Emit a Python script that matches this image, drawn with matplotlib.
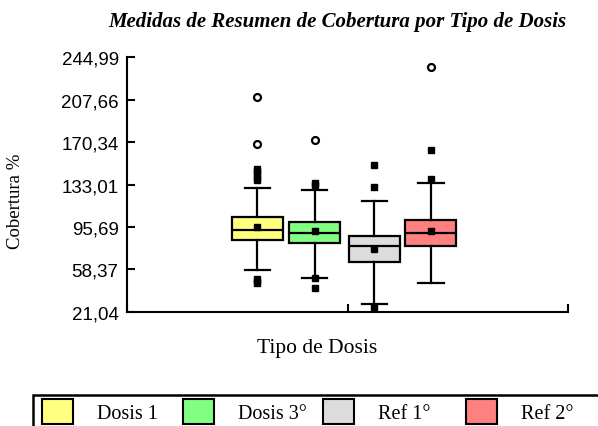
import matplotlib
matplotlib.use("Agg")
import matplotlib.pyplot as plt
from matplotlib.patches import Patch, Rectangle

# ---- data ----
categories = ["Dosis 1", "Dosis 3°", "Ref 1°", "Ref 2°"]
colors = ["#FFFF80", "#80FF80", "#DCDCDC", "#FF8080"]
q1 = [84.3, 81.7, 64.9, 78.7]
medians = [93.2, 90.5, 79.0, 90.5]
q3 = [104.3, 100.2, 87.5, 101.6]
whis_lo = [57.8, 50.8, 28.1, 46.9]
whis_hi = [129.9, 128.4, 118.4, 134.0]
means = [95.5, 92.5, 76.6, 92.5]
outliers = [
    [147.0, 145.0, 142.0, 139.0, 137.0, 50.0, 48.0, 46.8],
    [134.5, 132.3, 51.3, 42.5],
    [150.2, 130.5, 25.7],
    [163.2, 137.6],
]
far_outliers = [
    [209.7, 168.4],
    [171.7],
    [],
    [236.4],
]
yticks = [21.04, 58.37, 95.69, 133.01, 170.34, 207.66, 244.99]
ytick_labels = ["21,04", "58,37", "95,69", "133,01", "170,34", "207,66", "244,99"]

# ---- layout ----
W, H = 598, 427
fig = plt.figure(figsize=(W / 100, H / 100), dpi=100)
ax = fig.add_axes([127 / W, 1 - 313 / H, (568 - 127) / W, (313 - 58) / H])

positions = [0.2959, 0.4252, 0.5612, 0.6890]
box_width = 0.116

stats = []
for i in range(len(categories)):
    stats.append(dict(med=medians[i], q1=q1[i], q3=q3[i],
                      whislo=whis_lo[i], whishi=whis_hi[i],
                      mean=means[i], fliers=outliers[i], label=categories[i]))

lw = 1.6
bp = ax.bxp(stats, positions=positions, widths=box_width, patch_artist=True,
            showmeans=True, showfliers=True, manage_ticks=False,
            boxprops=dict(edgecolor="black", linewidth=lw),
            medianprops=dict(color="black", linewidth=lw),
            whiskerprops=dict(color="black", linewidth=lw),
            capprops=dict(color="black", linewidth=lw),
            meanprops=dict(marker="s", markerfacecolor="black",
                           markeredgecolor="black", markersize=5),
            flierprops=dict(marker="s", markerfacecolor="black",
                            markeredgecolor="black", markersize=5,
                            linestyle="none"))
for patch, c in zip(bp["boxes"], colors):
    patch.set_facecolor(c)

for pos, vals in zip(positions, far_outliers):
    if vals:
        ax.plot([pos] * len(vals), vals, linestyle="none", marker="o",
                markerfacecolor="white", markeredgecolor="black",
                markersize=5, markeredgewidth=1.6)

ax.set_xlim(0, 1)
ax.set_ylim(yticks[0], yticks[-1])
ax.set_yticks(yticks)
ax.set_yticklabels(ytick_labels, family="Liberation Sans", fontsize=13.5)
ax.set_xticks([0, 0.5, 1])
ax.set_xticklabels([])
ax.tick_params(axis="both", direction="in", length=6, width=1.5, pad=6)
for s in ["top", "right"]:
    ax.spines[s].set_visible(False)
for s in ["left", "bottom"]:
    ax.spines[s].set_linewidth(1.5)

fig.text(337 / W, 1 - 22 / H,
         "Medidas de Resumen de Cobertura por Tipo de Dosis",
         family="Liberation Serif", style="italic", weight="bold",
         fontsize=15, ha="center", va="center")
fig.text(16 / W, 1 - 201 / H, "Cobertura %", family="Liberation Serif",
         fontsize=13.5, rotation=90, ha="center", va="center")
fig.text(317 / W, 1 - 349 / H, "Tipo de Dosis", family="Liberation Serif",
         fontsize=15.5, ha="center", va="center")

# legend frame (extends past the figure edge as in the reference)
fig.add_artist(Rectangle((33 / W, -0.05), 1.0, 0.05 + (427 - 396) / H,
                         transform=fig.transFigure, fill=False,
                         edgecolor="black", linewidth=1.8))
fs = 14.5
px = fs * 100 / 72
hh_px = (25 - 0.245 * px) / 0.65
legend_x = [42, 183, 323, 466]
for c, lab, lx in zip(colors, categories, legend_x):
    h = Patch(facecolor=c, edgecolor="black", linewidth=1.5)
    fig.legend([h], [lab], loc="upper left",
               bbox_to_anchor=(lx / W, 1 - 400 / H), frameon=False,
               prop=dict(family="Liberation Serif", size=fs),
               handlelength=31 / px, handleheight=hh_px / px,
               handletextpad=24 / px, borderpad=0, borderaxespad=0)

fig.savefig("out.png", dpi=100)
